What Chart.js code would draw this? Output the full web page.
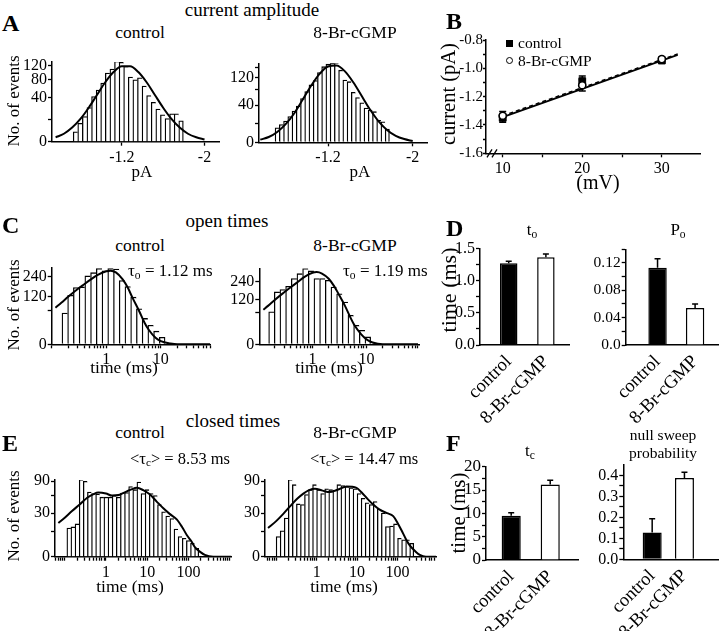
<!DOCTYPE html>
<html>
<head>
<meta charset="utf-8">
<script src="https://cdn.jsdelivr.net/npm/chart.js@4.4.1/dist/chart.umd.min.js"></script>
<style>
  html, body { margin: 0; padding: 0; background: #fff; }
  #page { position: relative; width: 720px; height: 631px; overflow: hidden;
          font-family: "Liberation Serif", "Times New Roman", serif; color: #000; }
  .t { position: absolute; white-space: nowrap; line-height: 1; transform: translate(-50%, -50%); }
  .l { position: absolute; white-space: nowrap; line-height: 1; transform: translate(0, -50%); }
  .r { position: absolute; white-space: nowrap; line-height: 1; transform: translate(-50%, -50%) rotate(-90deg); }
  .big { font-weight: bold; font-size: 24px; }
  .sub { font-size: 68%; position: relative; top: 0.22em; }
</style>
</head>
<body>
<div id="page">
  <div id="charts"></div>

  <div class="t" style="left:252px;top:9px;font-size:19px">current amplitude</div>
  <div class="l big" style="left:2px;top:23px">A</div>
  <div class="t" style="left:140px;top:33px;font-size:17.5px">control</div>
  <div class="t" style="left:355px;top:33px;font-size:17.5px">8-Br-cGMP</div>
  <div class="r" style="left:13px;top:101px;font-size:17px">No. of events</div>
  <div class="t" style="left:142px;top:171px;font-size:17px">pA</div>
  <div class="t" style="left:360px;top:171px;font-size:17px">pA</div>

  <div class="l big" style="left:446px;top:21px">B</div>
  <div class="r" style="left:448px;top:94px;font-size:20.5px">current (pA)</div>
  <div class="t" style="left:598px;top:182px;font-size:20px">(mV)</div>
  <div style="position:absolute;left:506px;top:40px;width:7px;height:7px;background:#000"></div>
  <div class="l" style="left:518px;top:43px;font-size:15.5px">control</div>
  <div style="position:absolute;left:506px;top:57px;width:5px;height:5px;border:1.5px solid #000;border-radius:50%"></div>
  <div class="l" style="left:518px;top:61px;font-size:15.5px">8-Br-cGMP</div>

  <div class="t" style="left:227px;top:220px;font-size:19px">open times</div>
  <div class="l big" style="left:2px;top:225px">C</div>
  <div class="t" style="left:140px;top:246px;font-size:17.5px">control</div>
  <div class="t" style="left:355px;top:246px;font-size:17.5px">8-Br-cGMP</div>
  <div class="r" style="left:13px;top:305px;font-size:17px">No. of events</div>
  <div class="l" style="left:128px;top:270px;font-size:17px">τ<span class="sub">o</span> = 1.12 ms</div>
  <div class="l" style="left:343px;top:270px;font-size:17px">τ<span class="sub">o</span> = 1.19 ms</div>
  <div class="t" style="left:124px;top:368px;font-size:17.5px">time (ms)</div>
  <div class="t" style="left:329px;top:368px;font-size:17.5px">time (ms)</div>

  <div class="l big" style="left:446px;top:228px">D</div>
  <div class="t" style="left:532px;top:229px;font-size:17px">t<span class="sub">o</span></div>
  <div class="t" style="left:678px;top:229px;font-size:17px">P<span class="sub">o</span></div>
  <div class="r" style="left:449px;top:290px;font-size:22px">time (ms)</div>

  <div class="t" style="left:233px;top:420px;font-size:19px">closed times</div>
  <div class="l big" style="left:2px;top:443px">E</div>
  <div class="t" style="left:140px;top:433px;font-size:17.5px">control</div>
  <div class="t" style="left:355px;top:433px;font-size:17.5px">8-Br-cGMP</div>
  <div class="l" style="left:130px;top:459px;font-size:16.5px">&lt;τ<span class="sub">c</span>&gt; = 8.53 ms</div>
  <div class="l" style="left:310px;top:459px;font-size:16.5px">&lt;τ<span class="sub">c</span>&gt; = 14.47 ms</div>
  <div class="r" style="left:13px;top:516px;font-size:17px">No. of events</div>
  <div class="t" style="left:130px;top:587px;font-size:17.5px">time (ms)</div>
  <div class="t" style="left:344px;top:587px;font-size:17.5px">time (ms)</div>

  <div class="l big" style="left:446px;top:443px">F</div>
  <div class="t" style="left:530px;top:450px;font-size:17px">t<span class="sub">c</span></div>
  <div class="t" style="left:663px;top:435px;font-size:15.5px">null sweep</div>
  <div class="t" style="left:663px;top:453px;font-size:15.5px">probability</div>
  <div class="r" style="left:458px;top:513px;font-size:21px">time (ms)</div>
</div>

<script>
// ---- A: current amplitude histograms (bin centres in pA, counts) ----
const ampBinsCtrl = [-0.752, -0.796, -0.841, -0.885, -0.930, -0.974, -1.018, -1.063, -1.107, -1.152, -1.196, -1.240,
                     -1.285, -1.329, -1.374, -1.418, -1.462, -1.507, -1.551, -1.596, -1.640, -1.684, -1.729, -1.773];
const ampCountsCtrl = [2, 7, 13, 24, 42, 55, 71, 97, 109, 133, 130, 117, 86, 79, 84, 64, 44, 32, 22, 15, 11, 16, 16, 9];
const ampBinsCgmp = [-0.72, -0.76, -0.80, -0.84, -0.88, -0.92, -0.96, -1.00, -1.04, -1.08, -1.12, -1.16, -1.20, -1.24,
                     -1.28, -1.32, -1.36, -1.40, -1.44, -1.48, -1.52, -1.56, -1.60, -1.64, -1.68, -1.72, -1.76];
const ampCountsCgmp = [6, 9, 13, 19, 28, 38, 55, 74, 95, 110, 140, 165, 176, 180, 184, 150, 112, 106, 72, 58, 45, 34, 30, 27, 14, 12, 5];
const ampFitX = [-0.56, -0.64, -0.72, -0.80, -0.88, -0.96, -1.04, -1.12, -1.20, -1.28, -1.36, -1.44, -1.52, -1.60,
                 -1.68, -1.76, -1.84, -1.92, -2.00];
const ampFitCtrl = [0.4, 1.3, 4.1, 10.7, 23.8, 45, 72.8, 100, 117.6, 117.6, 100, 72.8, 45, 23.8, 10.7, 4.1, 1.3, 0.4, 0.1];
const ampFitCgmp = [0.2, 0.8, 3.1, 9.5, 24, 52, 92, 135, 166, 170, 145, 103, 61, 30, 12.3, 4.2, 1.2, 0.3, 0.05];
const ampXTicks = [-1.2, -2];
const ampYTicksCtrl = [0, 10, 40, 80, 120];
const ampYLabelsCtrl = [0, 40, 80, 120];
const ampYTicksCgmp = [0, 10, 40, 80, 120, 160];
const ampYLabelsCgmp = [0, 40, 120];

// ---- B: I-V relation ----
const voltages = [10, 20, 30];
const ivCtrl = [-1.35, -1.09, -0.945];
const ivCtrlErr = [0.03, 0.035, 0.015];
const ivCgmp = [-1.335, -1.12, -0.935];
const ivCgmpErr = [0.03, 0.04, 0.015];
const ivFitX = [10, 32];
const ivFitCtrl = [-1.345, -0.905];
const ivFitCgmp = [-1.335, -0.898];
const ivYTicks = [-1.6, -1.5, -1.4, -1.3, -1.2, -1.1, -1.0, -0.9, -0.8];
const ivYLabels = [-1.6, -1.4, -1.2, -1.0, -0.8];
const ivXTicks = [10, 15, 20, 25, 30];
const ivXLabels = [10, 20, 30];

// ---- C: open time histograms (ms) ----
const openBins = [0.174, 0.221, 0.282, 0.359, 0.457, 0.582, 0.741, 0.944, 1.202, 1.531, 1.950, 2.483,
                  3.162, 4.027, 5.129, 6.531, 8.318, 10.59];
const openCountsCtrl = [51, 125, 168, 172, 244, 268, 300, 282, 300, 296, 212, 174, 116, 66, 35, 19, 9, 2.5];
const openCountsCgmp = [64, 167, 182, 205, 263, 304, 349, 328, 263, 263, 250, 200, 156, 109, 51, 22, 12, 3.3];
const openFitXCtrl = [0.117, 0.15, 0.2, 0.3, 0.4, 0.5, 0.7, 1.0, 1.2, 1.5, 2.0, 2.5, 3.0, 4.0, 5.0, 6.0, 8.0, 10, 15, 20, 80];
const openFitCtrl = [70, 90, 118, 160, 190, 215, 252, 278, 283, 270, 220, 165, 115, 58, 25, 11, 2.2, 0.5, 0.03, 0, 0];
const openFitXCgmp = [0.123, 0.15, 0.2, 0.3, 0.4, 0.5, 0.7, 1.0, 1.2, 1.5, 2.0, 2.5, 3.0, 4.0, 5.0, 6.0, 8.0, 10, 13, 20, 90];
const openFitCgmp = [73, 90, 120, 165, 200, 228, 275, 312, 318, 305, 262, 208, 158, 90, 45, 22, 6, 1.5, 0.2, 0, 0];
const openYTicks = [0, 60, 120, 240];
const openYLabels = [0, 120, 240];
const openXLabels = [1, 10];

// ---- E: closed time histograms (ms) ----
const closedBinsCtrl = [0.126, 0.158, 0.200, 0.251, 0.316, 0.398, 0.501, 0.631, 0.794, 1.000, 1.259, 1.585, 1.995, 2.512,
                        3.162, 3.981, 5.012, 6.310, 7.943, 10.00, 12.59, 15.85, 19.95, 25.12, 31.62, 39.81, 50.12, 63.10,
                        79.43, 100.0, 125.9, 158.5];
const closedCountsCtrl = [13, 14, 17, 94, 90, 66, 63, 62, 56, 56, 56, 59, 56, 64, 65, 78, 71, 88, 63, 71, 63, 59, 43, 32,
                          26, 23, 12, 6.4, 5.4, 4.1, 2.8, 1.1];
const closedBinsCgmp = [0.112, 0.141, 0.178, 0.224, 0.282, 0.355, 0.447, 0.562, 0.708, 0.891, 1.122, 1.413, 1.778, 2.239,
                        2.818, 3.548, 4.467, 5.623, 7.079, 8.913, 11.22, 14.13, 17.78, 22.39, 28.18, 35.48, 44.67, 56.23,
                        70.79, 89.13, 112.2, 141.3, 177.8, 223.9];
const closedCountsCgmp = [6.4, 10.6, 23.5, 94, 82, 44, 43, 61, 71, 82, 71, 63, 73, 71, 70, 82, 80, 78, 75, 73, 63, 54,
                          46, 43, 48, 36, 30, 14.4, 14.9, 17, 5.4, 4.5, 4.5, 2.8];
const closedFitXCtrl = [0.07, 0.1, 0.15, 0.23, 0.35, 0.5, 0.65, 1.0, 1.4, 2.0, 2.6, 4.0, 5.6, 8.0, 11.7, 17, 24.6, 35, 52,
                        70, 91, 120, 145, 200, 250, 400, 1100];
const closedFitCtrl = [18, 24, 33, 43, 55, 62, 65, 63, 59, 60, 64, 71, 75, 70, 61, 48, 37, 29, 22, 14, 7.5, 3.5, 1.4, 0.3,
                       0.05, 0, 0];
const closedFitXCgmp = [0.063, 0.1, 0.15, 0.22, 0.33, 0.47, 0.65, 0.91, 1.4, 2.1, 3.3, 5.5, 9.7, 13, 17, 25, 36, 55, 78,
                        100, 125, 160, 200, 280, 355, 500, 890];
const closedFitCgmp = [13, 20, 29, 40, 53, 63, 70, 73, 69, 66, 71, 78, 75, 65, 55, 43, 35, 30, 26, 18, 11, 5, 2, 0.4,
                       0.05, 0, 0];
const closedYTicks = [0, 10, 30, 60, 90];
const closedYLabels = [0, 30, 90];
const closedXLabels = [1, 10, 100];

// ---- D, F: summary bars ----
const groups = ['control', '8-Br-cGMP'];
const toMean = [1.27, 1.36], toErr = [0.03, 0.05];
const poMean = [0.113, 0.054], poErr = [0.013, 0.006];
const tcMean = [9.5, 16.2], tcErr = [0.65, 0.9];
const nullMean = [0.128, 0.388], nullErr = [0.066, 0.027];
const toTicks = [0, 0.25, 0.5, 0.75, 1, 1.25, 1.5], toLabels = [0, 0.5, 1, 1.5];
const poTicks = [0, 0.02, 0.04, 0.06, 0.08, 0.1, 0.12, 0.14], poLabels = [0, 0.04, 0.08, 0.12];
const tcTicks = [0, 2.5, 5, 7.5, 10, 12.5, 15, 17.5, 20], tcLabels = [0, 5, 10, 15, 20];
const nullTicks = [0, 0.05, 0.1, 0.15, 0.2, 0.25, 0.3, 0.35, 0.4], nullLabels = [0, 0.1, 0.2, 0.3, 0.4];

const SERIF = '"Liberation Serif", "Times New Roman", serif';
Chart.defaults.font.family = SERIF;
Chart.defaults.color = '#000';

// square-root value axis, used by the histograms
const LinearScale = Chart.LinearScale || Chart.registry.getScale('linear');
class SqrtScale extends LinearScale {
  getPixelForValue(value) {
    if (value === null || value === undefined || isNaN(value)) return NaN;
    const a = Math.sqrt(this.min), b = Math.sqrt(this.max);
    return this.getPixelForDecimal((Math.sqrt(Math.max(value, 0)) - a) / (b - a));
  }
  getValueForPixel(pixel) {
    const a = Math.sqrt(this.min), b = Math.sqrt(this.max);
    const s = a + this.getDecimalForPixel(pixel) * (b - a);
    return s * s;
  }
}
SqrtScale.id = 'sqrt';
SqrtScale.defaults = {};
Chart.register(SqrtScale);

function drawErrors(chart, behind) {
  const { ctx, scales: { x, y } } = chart;
  chart.data.datasets.forEach(ds => {
    if (!ds.errors || !!ds.errorsBehind !== behind) return;
    ctx.save();
    ctx.strokeStyle = '#000';
    ctx.lineWidth = 1.5;
    const cap = ds.errorCap || 3;
    ds.data.forEach((p, i) => {
      const px = x.getPixelForValue(p.x);
      const hi = y.getPixelForValue(p.y + ds.errors[i]);
      const lo = y.getPixelForValue(ds.errorsBoth ? p.y - ds.errors[i] : p.y);
      ctx.beginPath();
      ctx.moveTo(px, lo); ctx.lineTo(px, hi);
      ctx.moveTo(px - cap, hi); ctx.lineTo(px + cap, hi);
      if (ds.errorsBoth) { ctx.moveTo(px - cap, lo); ctx.lineTo(px + cap, lo); }
      ctx.stroke();
    });
    ctx.restore();
  });
}
const errorBars = {
  id: 'errorBars',
  beforeDatasetsDraw(chart) { drawErrors(chart, true); },
  afterDatasetsDraw(chart) { drawErrors(chart, false); }
};

// "//" break mark on the B x axis
const axisBreak = {
  id: 'axisBreak',
  afterDraw(chart) {
    const { ctx, chartArea } = chart;
    const x = chartArea.left + 6, y = chartArea.bottom;
    ctx.save();
    ctx.strokeStyle = '#000';
    ctx.lineWidth = 1.3;
    [-2.5, 2.5].forEach(dx => {
      ctx.beginPath();
      ctx.moveTo(x + dx - 2.5, y + 4);
      ctx.lineTo(x + dx + 2.5, y - 4);
      ctx.stroke();
    });
    ctx.restore();
  }
};

function logTicks(min, max) {
  const out = [];
  for (let e = Math.floor(Math.log10(min)); e <= Math.ceil(Math.log10(max)); e++) {
    for (let m = 1; m < 10; m++) {
      const v = +(m * Math.pow(10, e)).toPrecision(6);
      if (v >= min && v <= max) out.push(v);
    }
  }
  return out;
}

// canvas placed so that its chart area lands on [left, top, right, bottom]
function makeCanvas(area, pad) {
  const L = Math.round(area[0] - pad[0]), T = Math.round(area[1] - pad[1]);
  const W = Math.round(area[2] + pad[2]) - L, H = Math.round(area[3] + pad[3]) - T;
  const c = document.createElement('canvas');
  c.width = W; c.height = H;
  c.style.cssText = `position:absolute;left:${L}px;top:${T}px;width:${W}px;height:${H}px`;
  document.getElementById('charts').appendChild(c);
  return { canvas: c, padL: area[0] - L, padT: area[1] - T, padR: W - (area[2] - L), padB: H - (area[3] - T) };
}

function axis(o) {
  const has = (list, v) => list.some(l => Math.abs(l - v) < 1e-9);
  return {
    type: o.type, min: o.min, max: o.max, reverse: !!o.reverse,
    bounds: 'data', offset: false,
    border: { color: '#000', width: 1.5 },
    grid: { offset: false, drawOnChartArea: false, drawTicks: o.drawTicks !== false, tickLength: o.tickLength || 4,
            tickColor: '#000', tickWidth: 1.3 },
    ticks: { color: '#000', font: { size: o.size || 16, family: SERIF }, padding: o.padding === undefined ? 2 : o.padding,
             autoSkip: false, minRotation: o.rot || 0, maxRotation: o.rot || 0,
             callback: v => has(o.labels, v) ? o.fmt(v) : '' },
    afterBuildTicks: s => { s.ticks = o.ticks.map(v => ({ value: v })); },
    afterFit: s => { if (s.isHorizontal()) s.height = o.fit; else s.width = o.fit; }
  };
}

function baseOptions(g, scales) {
  return {
    responsive: false, animation: false, events: [],
    layout: { padding: { left: 0, top: g.padT, right: g.padR, bottom: 0 } },
    plugins: { legend: { display: false }, tooltip: { enabled: false } },
    scales
  };
}

function histogram(area, pad, h) {
  const g = makeCanvas(area, pad);
  const last = h.bins.length - 1;
  new Chart(g.canvas, {
    type: 'bar',
    data: {
      datasets: [
        { type: 'line', data: h.fitX.map((x, i) => ({ x, y: h.fitY[i] })), borderColor: '#000', borderWidth: 2,
          pointRadius: 0, cubicInterpolationMode: 'monotone', order: 0 },
        { type: 'bar', data: h.bins.map((x, i) => ({ x, y: h.counts[i] })), backgroundColor: '#fff',
          borderColor: '#000', borderWidth: c => ({ top: 1.3, left: 1.3, right: c.dataIndex === last ? 1.3 : 0, bottom: 0 }),
          barThickness: 'flex', categoryPercentage: 1, barPercentage: 1, order: 1 }
      ]
    },
    options: baseOptions(g, {
      x: axis(Object.assign({ fit: g.padB, padding: 2 }, h.x)),
      y: axis(Object.assign({ type: 'sqrt', min: 0, fit: g.padL, fmt: v => String(v), padding: 1 }, h.y))
    })
  });
}

function meanBars(area, pad, b) {
  const g = makeCanvas(area, pad);
  new Chart(g.canvas, {
    type: 'bar',
    data: {
      datasets: [{
        data: b.means.map((y, i) => ({ x: i + 1, y })), errors: b.errs, errorCap: 3,
        backgroundColor: ['#000', '#fff'], borderColor: '#000', borderWidth: 1.5,
        barPercentage: b.pct, categoryPercentage: 1
      }]
    },
    options: baseOptions(g, {
      x: axis({ type: 'linear', min: b.xMin, max: b.xMax, ticks: [1, 2], labels: [1, 2], fmt: v => groups[v - 1],
                rot: 45, size: 18.5, fit: g.padB, drawTicks: false, padding: 6 }),
      y: axis({ type: 'linear', min: 0, max: b.yMax, ticks: b.ticks, labels: b.labels, fmt: b.fmt, fit: g.padL,
                size: b.size || 16, padding: 1 })
    }),
    plugins: [errorBars]
  });
}

// A
histogram([52, 62, 219, 141.7], [40, 12, 8, 26], {
  bins: ampBinsCtrl, counts: ampCountsCtrl, fitX: ampFitX, fitY: ampFitCtrl,
  x: { type: 'linear', min: -2.14, max: -0.525, reverse: true, ticks: ampXTicks, labels: ampXTicks, fmt: v => String(v) },
  y: { max: 131, ticks: ampYTicksCtrl, labels: ampYLabelsCtrl }
});
histogram([259, 63.3, 427, 142.3], [40, 12, 8, 26], {
  bins: ampBinsCgmp, counts: ampCountsCgmp, fitX: ampFitX, fitY: ampFitCgmp,
  x: { type: 'linear', min: -2.135, max: -0.548, reverse: true, ticks: ampXTicks, labels: ampXTicks, fmt: v => String(v) },
  y: { max: 180, ticks: ampYTicksCgmp, labels: ampYLabelsCgmp }
});

// B
(function () {
  const g = makeCanvas([486, 40, 700, 153.3], [40, 12, 14, 26]);
  new Chart(g.canvas, {
    type: 'scatter',
    data: {
      datasets: [
        { data: ivFitX.map((x, i) => ({ x, y: ivFitCtrl[i] })), showLine: true, borderColor: '#000', borderWidth: 1.8,
          pointRadius: 0, order: 3 },
        { data: ivFitX.map((x, i) => ({ x, y: ivFitCgmp[i] })), showLine: true, borderColor: '#000', borderWidth: 1.5,
          borderDash: [4, 3], pointRadius: 0, order: 3 },
        { data: voltages.map((x, i) => ({ x, y: ivCtrl[i] })), pointStyle: 'rect', pointRadius: 4.8,
          backgroundColor: '#000', borderColor: '#000', borderWidth: 1, errors: ivCtrlErr, errorsBoth: true,
          errorsBehind: true, errorCap: 3.5, order: 2 },
        { data: voltages.map((x, i) => ({ x, y: ivCgmp[i] })), pointStyle: 'circle', pointRadius: 3.6,
          backgroundColor: '#fff', borderColor: '#000', borderWidth: 1.6, errors: ivCgmpErr, errorsBoth: true,
          errorsBehind: true, errorCap: 3.5, order: 1 }
      ]
    },
    options: baseOptions(g, {
      x: axis({ type: 'linear', min: 7.9, max: 34.8, ticks: ivXTicks, labels: ivXLabels, fmt: v => String(v),
                fit: g.padB, size: 16 }),
      y: axis({ type: 'linear', min: -1.6, max: -0.8, ticks: ivYTicks, labels: ivYLabels, fmt: v => v.toFixed(1),
                fit: g.padL, size: 15, tickLength: 3, padding: 0 })
    }),
    plugins: [errorBars, axisBreak]
  });
})();

// C
histogram([51.7, 268, 210.7, 344.3], [40, 12, 8, 22], {
  bins: openBins, counts: openCountsCtrl, fitX: openFitXCtrl, fitY: openFitCtrl,
  x: { type: 'logarithmic', min: 0.1, max: 82, ticks: logTicks(0.1, 82), labels: openXLabels, fmt: v => String(v) },
  y: { max: 304, ticks: openYTicks, labels: openYLabels }
});
histogram([259.3, 268.3, 419, 344.3], [40, 12, 8, 22], {
  bins: openBins, counts: openCountsCgmp, fitX: openFitXCgmp, fitY: openFitCgmp,
  x: { type: 'logarithmic', min: 0.1035, max: 94, ticks: logTicks(0.1035, 94), labels: openXLabels, fmt: v => String(v) },
  y: { max: 352, ticks: openYTicks, labels: openYLabels }
});

// D
meanBars([480, 248.3, 569.3, 345], [40, 12, 8, 95], {
  means: toMean, errs: toErr, xMin: 0.227, xMax: 2.63, pct: 0.47, yMax: 1.5,
  ticks: toTicks, labels: toLabels, fmt: v => v.toFixed(1)
});
meanBars([625.7, 249.3, 718, 345], [45, 12, 4, 95], {
  means: poMean, errs: poErr, xMin: 0.152, xMax: 2.61, pct: 0.49, yMax: 0.14,
  ticks: poTicks, labels: poLabels, fmt: v => v === 0 ? '0.0' : v.toFixed(2), size: 15.5
});

// E
histogram([55, 480, 231.7, 556.7], [40, 12, 8, 22], {
  bins: closedBinsCtrl, counts: closedCountsCtrl, fitX: closedFitXCtrl, fitY: closedFitCtrl,
  x: { type: 'logarithmic', min: 0.058, max: 1120, ticks: logTicks(0.058, 1120), labels: closedXLabels, fmt: v => String(v) },
  y: { max: 93, ticks: closedYTicks, labels: closedYLabels }
});
histogram([265, 480, 436, 556.7], [40, 12, 8, 22], {
  bins: closedBinsCgmp, counts: closedCountsCgmp, fitX: closedFitXCgmp, fitY: closedFitCgmp,
  x: { type: 'logarithmic', min: 0.053, max: 890, ticks: logTicks(0.053, 890), labels: closedXLabels, fmt: v => String(v) },
  y: { max: 93, ticks: closedYTicks, labels: closedYLabels }
});

// F
meanBars([486, 466.7, 578.3, 560], [40, 12, 8, 71], {
  means: tcMean, errs: tcErr, xMin: 0.354, xMax: 2.72, pct: 0.49, yMax: 20,
  ticks: tcTicks, labels: tcLabels, fmt: v => String(v), size: 17
});
meanBars([623.3, 465, 718, 559.3], [45, 12, 2, 72], {
  means: nullMean, errs: nullErr, xMin: 0.105, xMax: 3.04, pct: 0.59, yMax: 0.45,
  ticks: nullTicks, labels: nullLabels, fmt: v => v.toFixed(1), size: 16
});
</script>
</body>
</html>
